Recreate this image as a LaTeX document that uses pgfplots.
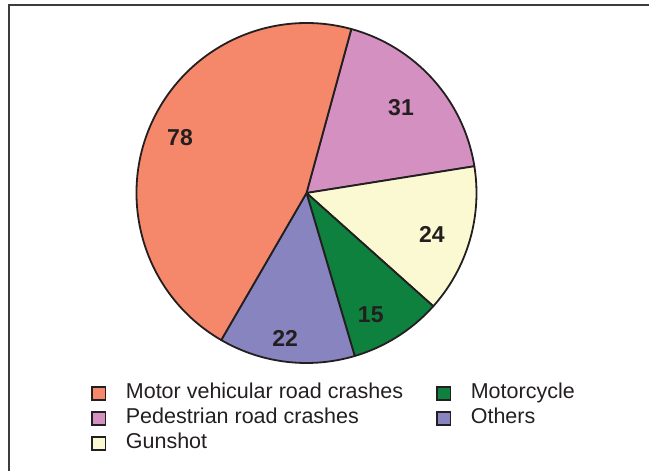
\documentclass[border=0pt]{standalone}
\usepackage{pgfplots}
\pgfplotsset{compat=1.18}
\usepackage{pgfplotstable}
\usepackage{fontspec}
\setmainfont{Liberation Sans}

\definecolor{pie0}{RGB}{212,144,192}% Pedestrian
\definecolor{pie1}{RGB}{251,249,210}% Gunshot
\definecolor{pie2}{RGB}{13,129,61}%   Motorcycle
\definecolor{pie3}{RGB}{136,132,192}% Others
\definecolor{pie4}{RGB}{245,135,106}% Motor vehicular
\definecolor{edgec}{RGB}{35,31,32}
\definecolor{framec}{RGB}{60,60,60}

% slices in clockwise order from the top; lx, ly = label position (radius units)
\pgfplotstableread[col sep=comma]{
name,value,lx,ly
Pedestrian road crashes,31,0.556,0.500
Gunshot,24,0.738,-0.245
Motorcycle,15,0.378,-0.718
Others,22,-0.126,-0.853
Motor vehicular road crashes,78,-0.744,0.326
}\piedata

\xdef\pietotal{0}
\foreach \i in {0,...,4}{%
  \pgfplotstablegetelem{\i}{value}\of\piedata
  \pgfmathsetmacro\t{\pietotal+\pgfplotsretval}%
  \xdef\pietotal{\t}%
}
\xdef\curang{74.7}
\foreach \i in {0,...,4}{%
  \pgfplotstablegetelem{\i}{value}\of\piedata
  \expandafter\xdef\csname pieV\i\endcsname{\pgfplotsretval}%
  \pgfmathsetmacro\e{\curang-\pgfplotsretval/\pietotal*360}%
  \expandafter\xdef\csname pieS\i\endcsname{\curang}%
  \expandafter\xdef\csname pieE\i\endcsname{\e}%
  \pgfmathsetmacro\sx{cos(\curang)}%
  \pgfmathsetmacro\sy{sin(\curang)}%
  \expandafter\xdef\csname pieSX\i\endcsname{\sx}%
  \expandafter\xdef\csname pieSY\i\endcsname{\sy}%
  \pgfplotstablegetelem{\i}{lx}\of\piedata
  \expandafter\xdef\csname pieX\i\endcsname{\pgfplotsretval}%
  \pgfplotstablegetelem{\i}{ly}\of\piedata
  \expandafter\xdef\csname pieY\i\endcsname{\pgfplotsretval}%
  \xdef\curang{\e}%
}

\begin{document}
\begin{tikzpicture}
\path[use as bounding box] (0pt,0pt) rectangle (649pt,-471pt);
\draw[framec, line width=1.3pt] (9pt,-471pt) -- (9pt,-5pt) -- (649pt,-5pt);
\begin{axis}[
  at={(306.5pt,-193pt)}, anchor=center,
  x=170pt, y=170pt,
  xmin=-1, xmax=1, ymin=-1, ymax=1,
  hide axis, clip=false,
  legend columns=2,
  legend cell align=left,
  legend image code/.code={\filldraw[#1, draw=edgec, line width=1.7pt] (0pt,-6.7pt) rectangle (13.4pt,6.7pt);},
  legend style={
    at={(axis cs:-1.2665,-1.124)}, anchor=north west,
    draw=none, fill=none, inner sep=0pt, outer sep=0pt,
    font=\fontsize{21.5}{25}\selectfont,
    text=edgec,
    row sep=6pt,
    nodes={inner sep=0pt, text height=14pt, text depth=5pt},
    /tikz/every odd column/.append style={column sep=19.6pt},
    /tikz/every even column/.append style={column sep=33pt},
  },
]
\pgfplotsinvokeforeach{0,...,4}{%
  \filldraw[fill=pie#1, draw=edgec, line width=1.8pt, line join=round]
    (axis cs:0,0) -- (axis cs:\csname pieSX#1\endcsname,\csname pieSY#1\endcsname)
    arc[start angle=\csname pieS#1\endcsname, end angle=\csname pieE#1\endcsname, radius=170pt]
    -- cycle;
}
\pgfplotsinvokeforeach{0,...,4}{%
  \node[font=\bfseries\fontsize{23}{26}\selectfont, text=edgec]
    at (axis cs:\csname pieX#1\endcsname,\csname pieY#1\endcsname) {\csname pieV#1\endcsname};
}
\addlegendimage{fill=pie4}\addlegendentry{Motor vehicular road crashes}
\addlegendimage{fill=pie2}\addlegendentry{Motorcycle}
\addlegendimage{fill=pie0}\addlegendentry{Pedestrian road crashes}
\addlegendimage{fill=pie3}\addlegendentry{Others}
\addlegendimage{fill=pie1}\addlegendentry{Gunshot}
\end{axis}
\end{tikzpicture}
\end{document}
